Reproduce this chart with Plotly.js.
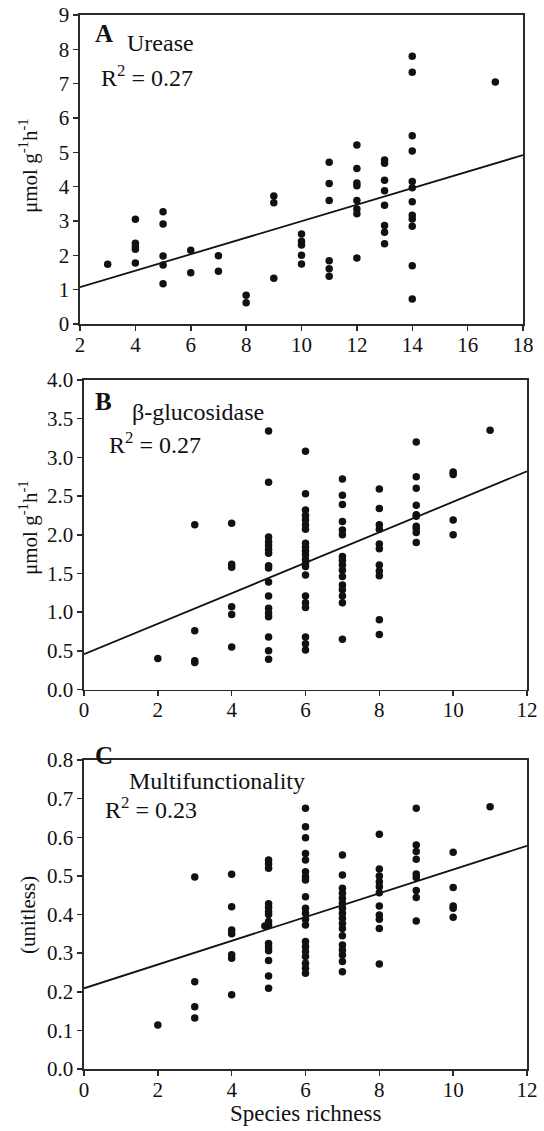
<!DOCTYPE html>
<html>
<head>
<meta charset="utf-8">
<script src="https://cdn.plot.ly/plotly-3.0.1.min.js"></script>
<style>html,body{margin:0;padding:0;background:#fff}#chart{width:544px;height:1131px}</style>
</head>
<body>
<div id="chart"></div>
<script>
// ---------- Data ----------
// Panel A: Urease (µmol g-1 h-1) vs species richness
const richA = [3, 4, 5, 6, 7, 8, 9, 10, 11, 12, 13, 14, 17];
const ureaseA = [
  [1.74],
  [3.05, 2.35, 2.25, 2.18, 1.78],
  [3.27, 2.91, 1.98, 1.72, 1.17],
  [2.15, 1.49],
  [1.99, 1.54],
  [0.84, 0.62],
  [3.73, 3.53, 1.33],
  [2.62, 2.41, 2.30, 2.00, 1.75],
  [4.71, 4.09, 3.60, 1.84, 1.61, 1.39],
  [5.21, 4.53, 4.11, 4.03, 3.60, 3.35, 3.21, 1.92],
  [4.78, 4.68, 4.19, 3.88, 3.46, 2.87, 2.67, 2.34],
  [7.80, 7.33, 5.48, 5.04, 4.15, 3.97, 3.56, 3.17, 3.06, 2.85, 1.70, 0.73],
  [7.05]
];
const fitA_x = [2, 18];
const fitA_y = [1.07, 4.92];

// Panel B: beta-glucosidase
const richB = [2, 3, 4, 5, 6, 7, 8, 9, 10, 11];
const glucB = [
  [0.40],
  [2.13, 0.76, 0.37, 0.35],
  [2.15, 1.62, 1.58, 1.07, 0.97, 0.55],
  [3.34, 2.68, 1.97, 1.91, 1.86, 1.81, 1.76, 1.60, 1.57, 1.39, 1.21, 1.05, 0.99, 0.94, 0.68, 0.50, 0.39],
  [3.08, 2.53, 2.32, 2.25, 2.19, 2.13, 2.07, 1.89, 1.84, 1.79, 1.74, 1.68, 1.63, 1.59, 1.48, 1.21, 1.12, 1.06, 0.68, 0.59, 0.51],
  [2.72, 2.51, 2.39, 2.17, 2.06, 2.00, 1.72, 1.67, 1.61, 1.54, 1.46, 1.35, 1.29, 1.21, 1.12, 0.65],
  [2.59, 2.34, 2.13, 2.07, 1.88, 1.82, 1.61, 1.53, 1.47, 0.90, 0.71],
  [3.20, 2.75, 2.60, 2.38, 2.26, 2.24, 2.11, 2.08, 2.03, 1.90],
  [2.81, 2.78, 2.19, 2.00],
  [3.35]
];
const fitB_x = [0, 12];
const fitB_y = [0.455, 2.82];

// Panel C: multifunctionality
const richC = [2, 3, 4, 4.9, 5, 6, 7, 8, 9, 10, 11];
const multiC = [
  [0.114],
  [0.497, 0.226, 0.161, 0.132],
  [0.504, 0.420, 0.360, 0.350, 0.296, 0.287, 0.192],
  [0.370],
  [0.541, 0.531, 0.520, 0.428, 0.418, 0.408, 0.400, 0.382, 0.372, 0.325, 0.316, 0.306, 0.281, 0.241, 0.209],
  [0.675, 0.627, 0.599, 0.558, 0.541, 0.511, 0.498, 0.489, 0.446, 0.416, 0.403, 0.388, 0.373, 0.330, 0.317, 0.304, 0.291, 0.274, 0.261, 0.248],
  [0.554, 0.502, 0.468, 0.455, 0.442, 0.429, 0.416, 0.403, 0.390, 0.377, 0.364, 0.345, 0.321, 0.308, 0.295, 0.278, 0.252],
  [0.608, 0.518, 0.500, 0.485, 0.472, 0.456, 0.422, 0.399, 0.388, 0.364, 0.272],
  [0.675, 0.580, 0.563, 0.543, 0.505, 0.496, 0.462, 0.444, 0.383],
  [0.561, 0.470, 0.422, 0.416, 0.393],
  [0.679]
];
const fitC_x = [0, 12];
const fitC_y = [0.209, 0.578];

// Tick labels
const ticksA_x = [2, 4, 6, 8, 10, 12, 14, 16, 18];
const ticksA_y = [0, 1, 2, 3, 4, 5, 6, 7, 8, 9];
const ticksBC_x = [0, 2, 4, 6, 8, 10, 12];
const ticksB_y = [0, 0.5, 1, 1.5, 2, 2.5, 3, 3.5, 4];
const ticksC_y = [0, 0.1, 0.2, 0.3, 0.4, 0.5, 0.6, 0.7, 0.8];

// ---------- Build ----------
const W = 544, H = 1131;
const FONT = 'Liberation Serif, "Times New Roman", serif';
const INK = '#111';
const AX = '#2a2a2a';

function flatten(rich, vals) {
  const x = [], y = [];
  rich.forEach((r, i) => vals[i].forEach(v => { x.push(r); y.push(v); }));
  return {x, y};
}
const pA = flatten(richA, ureaseA);
const pB = flatten(richB, glucB);
const pC = flatten(richC, multiC);

const marker = {size: 7.5, color: INK, line: {width: 0}};
const fitLine = {color: INK, width: 1.8};

const traces = [
  {type: 'scatter', mode: 'markers', x: pA.x, y: pA.y, xaxis: 'x', yaxis: 'y', marker, cliponaxis: false},
  {type: 'scatter', mode: 'lines', x: fitA_x, y: fitA_y, xaxis: 'x', yaxis: 'y', line: fitLine},
  {type: 'scatter', mode: 'markers', x: pB.x, y: pB.y, xaxis: 'x2', yaxis: 'y2', marker, cliponaxis: false},
  {type: 'scatter', mode: 'lines', x: fitB_x, y: fitB_y, xaxis: 'x2', yaxis: 'y2', line: fitLine},
  {type: 'scatter', mode: 'markers', x: pC.x, y: pC.y, xaxis: 'x3', yaxis: 'y3', marker, cliponaxis: false},
  {type: 'scatter', mode: 'lines', x: fitC_x, y: fitC_y, xaxis: 'x3', yaxis: 'y3', line: fitLine}
];

function axis(extra) {
  return Object.assign({
    showgrid: false, zeroline: false, showline: true, mirror: true,
    linecolor: AX, linewidth: 1.6,
    ticks: 'outside', ticklen: 5, tickwidth: 1.5, tickcolor: AX,
    tickfont: {family: FONT, size: 21, color: INK},
    fixedrange: true
  }, extra);
}
const px = p => p / W;
const py = p => 1 - p / H;

const layout = {
  width: W, height: H,
  margin: {l: 0, r: 0, t: 0, b: 0},
  paper_bgcolor: '#fff', plot_bgcolor: '#fff',
  showlegend: false,
  font: {family: FONT, color: INK},
  xaxis: axis({domain: [px(80), px(523)], anchor: 'y', range: [2, 18], tickvals: ticksA_x, ticklabelstandoff: -4}),
  yaxis: axis({domain: [py(324), py(15)], anchor: 'x', range: [0, 9], tickvals: ticksA_y}),
  xaxis2: axis({domain: [px(84), px(527)], anchor: 'y2', range: [0, 12], tickvals: ticksBC_x, ticklabelstandoff: -4}),
  yaxis2: axis({domain: [py(689.5), py(380)], anchor: 'x2', range: [0, 4], tickvals: ticksB_y, tickformat: '.1f'}),
  xaxis3: axis({domain: [px(84), px(527)], anchor: 'y3', range: [0, 12], tickvals: ticksBC_x, ticklabelstandoff: -4}),
  yaxis3: axis({domain: [py(1069), py(760)], anchor: 'x3', range: [0, 0.8], tickvals: ticksC_y, tickformat: '.1f'}),
  annotations: []
};

function note(text, x, y, size, opts) {
  layout.annotations.push(Object.assign({
    text, xref: 'paper', yref: 'paper', x: px(x), y: py(y),
    xanchor: 'left', yanchor: 'middle', showarrow: false,
    font: {family: FONT, size: size, color: INK}
  }, opts || {}));
}
// Panel labels and texts
note('<b>A</b>', 93, 34, 25);
note('Urease', 125, 43, 24);
note('R<sup>2</sup> = 0.27', 99, 76, 24);
note('<b>B</b>', 93, 401, 25);
note('β-glucosidase', 130, 412, 24);
note('R<sup>2</sup> = 0.27', 107, 443, 24);
note('<b>C</b>', 93, 755, 25);
note('Multifunctionality', 127, 781, 24);
note('R<sup>2</sup> = 0.23', 103, 808, 24);
// Axis titles
note('μmol g<sup>-1</sup>h<sup>-1</sup>', 28, 166, 21, {xanchor: 'center', textangle: -90});
note('μmol g<sup>-1</sup>h<sup>-1</sup>', 28, 528, 21, {xanchor: 'center', textangle: -90});
note('(unitless)', 28, 915, 21, {xanchor: 'center', textangle: -90});
note('Species richness', 305, 1113, 23, {xanchor: 'center'});

Plotly.newPlot('chart', traces, layout, {displayModeBar: false, staticPlot: true});
</script>
</body>
</html>
